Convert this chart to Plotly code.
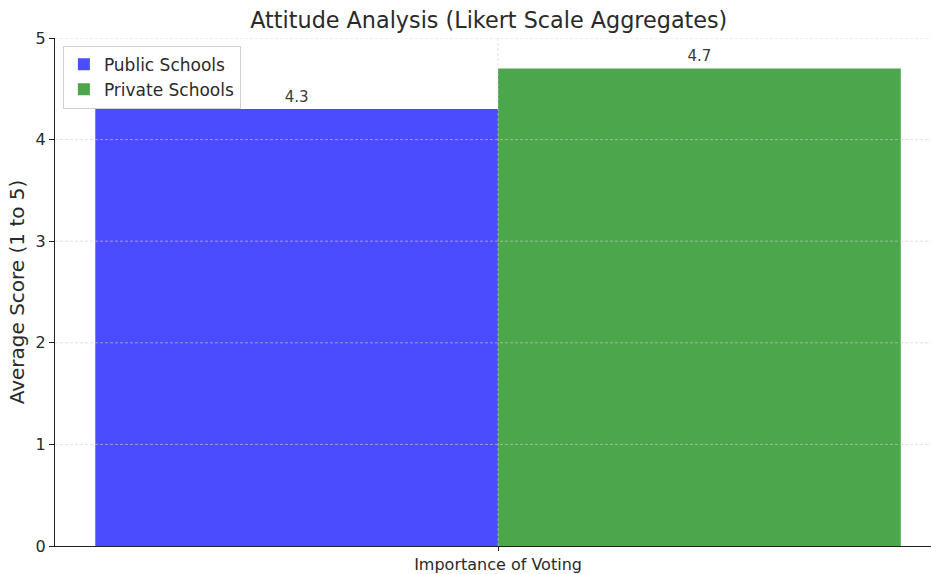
import plotly.graph_objects as go

# Survey aggregates
categories = ["Importance of Voting"]
public_scores = [4.3]
private_scores = [4.7]
series_names = ["Public Schools", "Private Schools"]
y_ticks = [0, 1, 2, 3, 4, 5]

FONT = "DejaVu Sans"
TEXT = "#2a2a2a"
fig = go.Figure()
fig.add_trace(go.Bar(
    x=categories, y=public_scores, name=series_names[0],
    marker=dict(color="#4c4cff", line=dict(width=0)),
    text=[f"{v:.1f}" for v in public_scores], textposition="outside",
    textfont=dict(family=FONT, size=15, color="#3a3a3a"), cliponaxis=False,
))
fig.add_trace(go.Bar(
    x=categories, y=private_scores, name=series_names[1],
    marker=dict(color="#4ca64c", line=dict(width=0)),
    text=[f"{v:.1f}" for v in private_scores], textposition="outside",
    textfont=dict(family=FONT, size=15, color="#3a3a3a"), cliponaxis=False,
))

# dashed grid drawn on top of the bars
grid_style = dict(color="rgba(205,205,205,0.6)", width=1, dash="3px,2px")
shapes = []
for t in y_ticks[1:]:
    shapes.append(dict(type="line", xref="paper", yref="y", x0=0, x1=1, y0=t, y1=t,
                       line=grid_style, layer="above"))
shapes.append(dict(type="line", xref="x", yref="paper", x0=categories[0], x1=categories[0],
                   y0=0, y1=1, line=grid_style, layer="above"))

fig.update_layout(
    width=931, height=574,
    margin=dict(l=55, r=0, t=38, b=28),
    paper_bgcolor="white", plot_bgcolor="white",
    font=dict(family=FONT, size=16, color=TEXT),
    barmode="group", bargap=0.2, bargroupgap=0,
    title=dict(text="Attitude Analysis (Likert Scale Aggregates)", x=0.525, xanchor="center",
               y=0.964, yanchor="middle", font=dict(family=FONT, size=22.3, color=TEXT)),
    legend=dict(x=0.009, y=0.985, xanchor="left", yanchor="top",
                bgcolor="rgba(255,255,255,0.85)", bordercolor="#d0d0d0", borderwidth=1,
                font=dict(family=FONT, size=17, color=TEXT), tracegroupgap=0,
                itemwidth=30),
    shapes=shapes,
    xaxis=dict(range=[-0.44, 0.43], showgrid=False, showline=True, linecolor="#222222",
               linewidth=1, ticks="outside", ticklen=4, tickcolor="#222222",
               tickfont=dict(family=FONT, size=16, color=TEXT), zeroline=False,
               fixedrange=True),
    yaxis=dict(range=[0, 5], tickvals=y_ticks, showgrid=False, showline=True,
               linecolor="#222222", linewidth=1, ticks="outside", ticklen=5,
               tickcolor="#222222", tickfont=dict(family=FONT, size=16, color=TEXT),
               zeroline=False,
               title=dict(text="Average Score (1 to 5)", font=dict(family=FONT, size=20, color=TEXT),
                          standoff=5)),
)

fig.write_html("out.html")
